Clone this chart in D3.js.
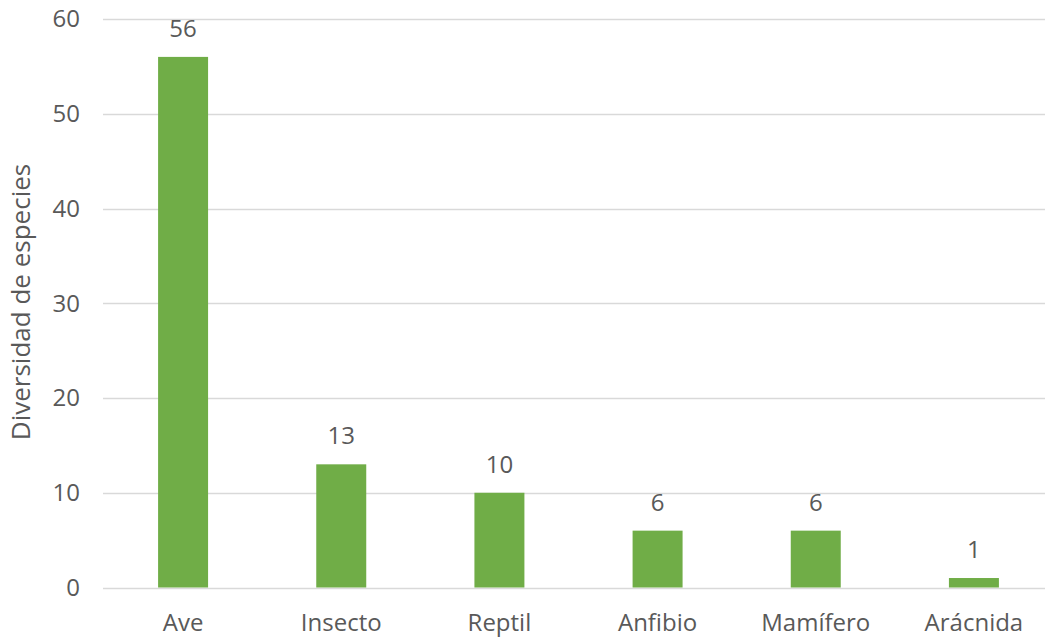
<!DOCTYPE html>
<html>
<head>
<meta charset="utf-8">
<script src="https://cdn.jsdelivr.net/npm/d3@7"></script>
<style>
  body { margin: 0; background: #fff; overflow: hidden; }
  text { font-family: "Open Sans", sans-serif; fill: #595959; }
</style>
</head>
<body>
<div id="chart"></div>
<script>
var categories = ["Ave", "Insecto", "Reptil", "Anfibio", "Mamífero", "Arácnida"];
var values = [56, 13, 10, 6, 6, 1];
var yTicks = [0, 10, 20, 30, 40, 50, 60];

var width = 1045, height = 638;

var svg = d3.select("#chart")
    .append("svg")
    .attr("width", width)
    .attr("height", height);

// band step ~158 px with 50 px bars
var x = d3.scaleBand()
    .domain(categories)
    .range([104, 1053])
    .paddingInner(1 - 50 / 158.2)
    .paddingOuter((1 - 50 / 158.2) / 2);

var y = d3.scaleLinear()
    .domain([0, 60])
    .range([587.5, 19]);

// gridlines
svg.selectAll(".grid")
    .data(yTicks).enter().append("line")
    .attr("class", "grid")
    .attr("x1", 103)
    .attr("x2", 1053)
    .attr("y1", function(d){ return Math.round(y(d)) + 0.5; })
    .attr("y2", function(d){ return Math.round(y(d)) + 0.5; })
    .attr("stroke", "#d9d9d9")
    .attr("stroke-width", 1.3);

// y tick labels
svg.selectAll(".ytick")
    .data(yTicks).enter().append("text")
    .attr("class", "ytick")
    .attr("x", 80)
    .attr("y", function(d){ return y(d); })
    .attr("dy", "0.35em")
    .attr("text-anchor", "end")
    .style("font-size", "24px")
    .text(function(d){ return d; });

// bars
svg.selectAll(".bar")
    .data(values).enter().append("rect")
    .attr("class", "bar")
    .attr("x", function(d, i){ return x(categories[i]); })
    .attr("width", x.bandwidth())
    .attr("y", function(d){ return y(d); })
    .attr("height", function(d){ return y(0) - y(d); })
    .attr("fill", "#70ad47");

// value labels
svg.selectAll(".val")
    .data(values).enter().append("text")
    .attr("class", "val")
    .attr("x", function(d, i){ return x(categories[i]) + x.bandwidth() / 2; })
    .attr("y", function(d){ return y(d) - 20; })
    .attr("text-anchor", "middle")
    .style("font-size", "24px")
    .text(function(d){ return d; });

// category labels
svg.selectAll(".cat")
    .data(categories).enter().append("text")
    .attr("class", "cat")
    .attr("x", function(d){ return x(d) + x.bandwidth() / 2; })
    .attr("y", 623)
    .attr("dy", "0.35em")
    .attr("text-anchor", "middle")
    .style("font-size", "24px")
    .text(function(d){ return d; });

// axis title
svg.append("text")
    .attr("transform", "translate(21,302) rotate(-90)")
    .attr("dy", "0.35em")
    .attr("text-anchor", "middle")
    .style("font-size", "26px")
    .text("Diversidad de especies");
</script>
</body>
</html>
